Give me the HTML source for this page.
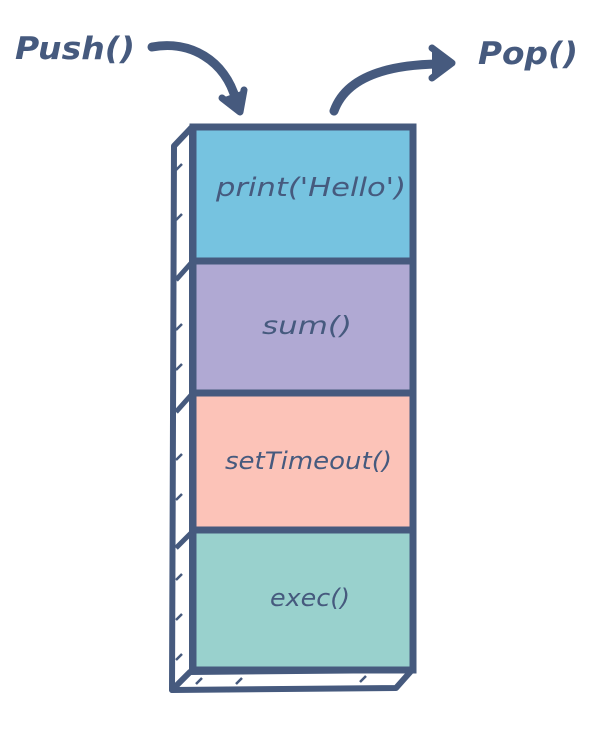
<!DOCTYPE html>
<html><head><meta charset="utf-8"><style>
html,body{margin:0;padding:0;background:#fff}
svg{display:block}
text{font-family:"DejaVu Sans","Liberation Sans",sans-serif;fill:#465a7e}
</style></head><body>
<svg width="614" height="744" viewBox="0 0 614 744">
<g><text x="15" y="59" font-size="31" font-weight="bold" font-style="italic" textLength="120" lengthAdjust="spacingAndGlyphs">Push()</text></g>
<g><text x="478" y="64" font-size="31" font-weight="bold" font-style="italic" textLength="100" lengthAdjust="spacingAndGlyphs">Pop()</text></g>
<g stroke="#465a7e" fill="none" stroke-linecap="round">
<path d="M152 47 C190 40 225 60 236 100" stroke-width="9"/>
<path d="M222 98 L240 112 L244 90" stroke-width="7" fill="#465a7e" stroke-linejoin="round"/>
</g>
<g stroke="#465a7e" fill="none" stroke-linecap="round">
<path d="M334 111 C345 80 380 65 438 64" stroke-width="9"/>
<path d="M432 48 L452 63 L432 78" stroke-width="7" fill="#465a7e" stroke-linejoin="round"/>
</g>
<g stroke="#465a7e" stroke-width="6" fill="#fff" stroke-linejoin="round">
<path d="M192 127 L174 146 L172 690 L192 672 Z"/>
<path d="M172 690 L190 672 L412 670 L396 688 Z"/>
<path d="M176 280 L192 262 M176 412 L192 394 M176 548 L192 532" stroke-width="5"/>
<path d="M176 170 L182 164 M176 220 L182 214 M176 330 L182 324 M176 370 L182 364 M176 460 L182 454 M176 500 L182 494 M176 580 L182 574 M176 620 L182 614 M176 660 L182 654 M196 684 L202 678 M236 684 L242 678 M360 682 L366 676" stroke-width="2.5"/>
</g>
<g>
<rect x="194" y="128" width="218" height="133" fill="#76c3e0"/>
<text x="216" y="196" font-size="26" font-style="italic" textLength="190" lengthAdjust="spacingAndGlyphs">print('Hello')</text></g>
<g>
<rect x="194" y="261" width="218" height="132" fill="#b0a9d3"/>
<text x="262" y="334" font-size="25" font-style="italic" textLength="90" lengthAdjust="spacingAndGlyphs">sum()</text></g>
<g>
<rect x="194" y="393" width="218" height="137" fill="#fcc3b8"/>
<text x="225" y="469" font-size="24" font-style="italic" textLength="167" lengthAdjust="spacingAndGlyphs">setTimeout()</text></g>
<g>
<rect x="194" y="530" width="218" height="139" fill="#99d1cd"/>
<text x="270" y="606" font-size="24" font-style="italic" textLength="80" lengthAdjust="spacingAndGlyphs">exec()</text></g>
<g stroke="#465a7e" fill="none">
<rect x="193" y="127" width="220" height="543" stroke-width="7"/>
<path d="M193 261 L413 261 M193 393 L413 393 M193 530 L413 530" stroke-width="7"/>
</g>
</svg>
</body></html>
